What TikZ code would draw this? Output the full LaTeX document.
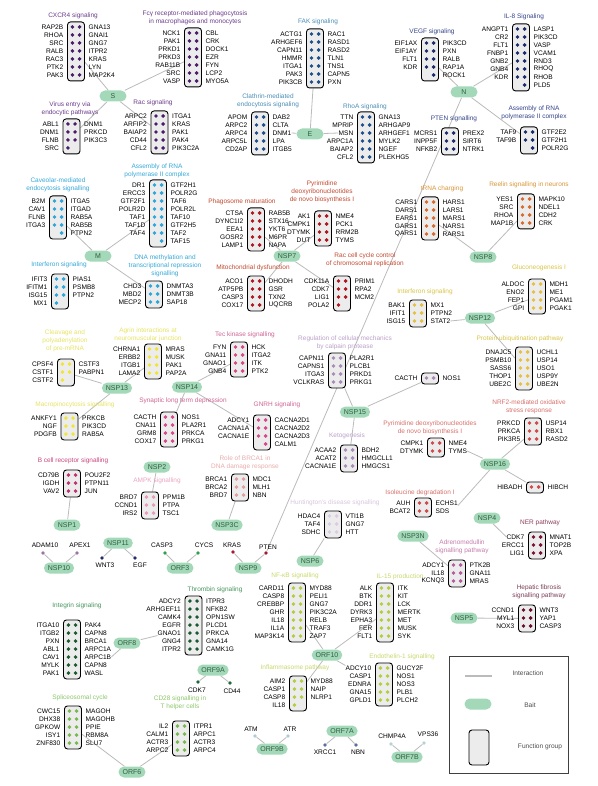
\documentclass[tikz,border=0pt]{standalone}
\usepackage{fontspec}
\setmainfont{Liberation Sans}
\usetikzlibrary{positioning, backgrounds}

\definecolor{edgegray}{HTML}{BBBBBB}
\definecolor{baitgreen}{HTML}{A3D9B8}
\definecolor{baittext}{HTML}{2F5E40}
\definecolor{boxgray}{HTML}{ECECEC}
% dot / title colours per bait
\definecolor{colS}{HTML}{4A1B6B}   \definecolor{ttlS}{HTML}{6B3C8C}
\definecolor{colE}{HTML}{1E4F8C}   \definecolor{ttlE}{HTML}{4A8DB5}
\definecolor{colN}{HTML}{1B296B}   \definecolor{ttlN}{HTML}{34448A}
\definecolor{colM}{HTML}{29A6DA}   \definecolor{ttlM}{HTML}{35A8D8}
\definecolor{col7}{HTML}{B0141E}   \definecolor{ttl7}{HTML}{C2482E}
\definecolor{col8}{HTML}{D8692A}   \definecolor{ttl8}{HTML}{D99436}
\definecolor{col12}{HTML}{E5C03E}  \definecolor{ttl12}{HTML}{D8C445}
\definecolor{col13}{HTML}{F0E632}  \definecolor{ttl13}{HTML}{E6E264}
\definecolor{col14}{HTML}{D9478A}  \definecolor{ttl14}{HTML}{CF6493}
\definecolor{col15}{HTML}{A98AB8}  \definecolor{ttl15}{HTML}{BBA0C8}
\definecolor{col16}{HTML}{D04A4A}  \definecolor{ttl16}{HTML}{D5706A}
\definecolor{col4}{HTML}{7C1034}   \definecolor{ttl4}{HTML}{8C3E5C}
\definecolor{col3N}{HTML}{B55A9A}  \definecolor{ttl3N}{HTML}{C47CAA}
\definecolor{col5}{HTML}{6A0E2A}   \definecolor{ttl5}{HTML}{7C3C55}
\definecolor{col2}{HTML}{E99ABA}   \definecolor{ttl2}{HTML}{EAA3C2}
\definecolor{col1}{HTML}{C2306F}   \definecolor{ttl1}{HTML}{C9457E}
\definecolor{col3C}{HTML}{E59C9C}  \definecolor{ttl3C}{HTML}{E9ABAB}
\definecolor{col6}{HTML}{DCCCE3}   \definecolor{ttl6}{HTML}{D6C6DF}
\definecolor{colO8}{HTML}{195B2F}  \definecolor{ttlO8}{HTML}{43955A}
\definecolor{colO6}{HTML}{74BA4C}  \definecolor{ttlO6}{HTML}{8CC66A}
\definecolor{colO10}{HTML}{B1CF3D} \definecolor{ttlO10}{HTML}{C5D96C}
\definecolor{col10}{HTML}{A070A8}
\definecolor{col11}{HTML}{262A6A}
\definecolor{colO3}{HTML}{2FA04A}
\definecolor{col9}{HTML}{A8182E}
\definecolor{colO9A}{HTML}{1D6A38}
\definecolor{colO9B}{HTML}{A9CCE0}
\definecolor{colO7A}{HTML}{5A6EA0}
\definecolor{colO7B}{HTML}{B8D0D8}

\tikzset{
    fgbox/.style={
        draw=black,
        fill=boxgray,
        line width=0.9pt,
        rounded corners=3pt,
        minimum width=17pt,
        inner sep=0pt
    },
    bait/.style={
        fill=baitgreen,
        rounded corners=5.5pt,
        minimum width=27pt,
        minimum height=11pt,
        inner xsep=4pt,
        inner ysep=0pt,
        text=baittext,
        font=\fontsize{7}{8}\selectfont
    },
    gene/.style={
        inner sep=0pt,
        font=\fontsize{6.6}{7}\selectfont
    },
    genedot/.style={
        circle,
        inner sep=0pt,
        minimum size=3.6pt
    },
    grouptitle/.style={
        align=center,
        inner sep=0pt,
        font=\fontsize{6.5}{8}\selectfont
    },
    link/.style={
        draw=edgegray,
        line width=0.8pt
    }
}

\newcommand\fgpitch{8}
% #1 name, #2 x, #3 y of first row, #4 rows, #5 colour, #6 left genes, #7 right genes
\newcommand\fgroup[7]{%
  \node[fgbox, minimum height={(#4-1)*\fgpitch+11}, anchor=north] (#1) at (#2,#3-5.5) {};
  \foreach \g [count=\i] in {#6} {
    \fill[#5] (#2-3.6,{#3+(\i-1)*\fgpitch}) circle (1.9pt);
    \node[gene, anchor=east] (#1-l\i) at (#2-12.5,{#3+(\i-1)*\fgpitch}) {\g};
  }
  \foreach \g [count=\i] in {#7} {
    \fill[#5] (#2+3.6,{#3+(\i-1)*\fgpitch}) circle (1.9pt);
    \node[gene, anchor=west] (#1-r\i) at (#2+12.5,{#3+(\i-1)*\fgpitch}) {\g};
  }%
}

\begin{document}
\begin{tikzpicture}[x=1pt, y=-1pt]
\useasboundingbox (0,0) rectangle (597,786);

% baits
\node[bait] (S) at (113,96) {S};
\node[bait] (E) at (310,134) {E};
\node[bait] (N) at (464,92) {N};
\node[bait] (M) at (98,256) {M};
\node[bait] (nsp7) at (287,256) {NSP7};
\node[bait] (nsp8) at (483,257) {NSP8};
\node[bait] (nsp12) at (480,318) {NSP12};
\node[bait] (nsp13) at (117,388) {NSP13};
\node[bait] (nsp14) at (187,387) {NSP14};
\node[bait] (nsp15) at (355,412) {NSP15};
\node[bait] (nsp16) at (495,464) {NSP16};
\node[bait] (nsp4) at (487,518) {NSP4};
\node[bait] (nsp3n) at (413,536) {NSP3N};
\node[bait] (nsp5) at (464,618) {NSP5};
\node[bait] (nsp2) at (157,467) {NSP2};
\node[bait] (nsp1) at (67,525) {NSP1};
\node[bait] (nsp3c) at (227,525) {NSP3C};
\node[bait] (nsp6) at (310,561) {NSP6};
\node[bait] (nsp10) at (59,568) {NSP10};
\node[bait] (nsp11) at (118,543) {NSP11};
\node[bait] (orf3) at (180,568) {ORF3};
\node[bait] (nsp9) at (248,568) {NSP9};
\node[bait] (orf8) at (127,643) {ORF8};
\node[bait] (orf9a) at (213,670) {ORF9A};
\node[bait] (orf6) at (132,772) {ORF6};
\node[bait] (orf10) at (327,655) {ORF10};
\node[bait] (orf9b) at (272,749) {ORF9B};
\node[bait] (orf7a) at (342,731) {ORF7A};
\node[bait] (orf7b) at (407,757) {ORF7B};

% S
\fgroup{cxcr4}{76}{27}{7}{colS}{RAP2B,RHOA,SRC,RALB,RAC3,PTK2,PAK3}{GNA13,GNAI1,GNG7,ITPR2,KRAS,LYN,MAP2K4}
\node[grouptitle, text=ttlS] (cxcr4-t) at (73,16) {CXCR4 signaling};
\fgroup{fcg}{193}{33}{7}{colS}{NCK1,PAK1,PRKD1,PRKD3,RAB11B,SRC,VASP}{CBL,CRK,DOCK1,EZR,FYN,LCP2,MYO5A}
\node[grouptitle, text=ttlS] (fcg-t) at (195,17.5) {Fcγ receptor-mediated phagocytosis\\in macrophages and monocytes};
\fgroup{virus}{71.5}{124}{4}{colS}{ABL1,DNM1,FLNB,SRC}{DNM1,PRKCD,PIK3C3}
\node[grouptitle, text=ttlS] (virus-t) at (70,109) {Virus entry via\\endocytic pathways};
\fgroup{rac}{159.5}{116}{5}{colS}{ARPC2,ARFIP2,BAIAP2,CD44,CFL2}{ITGA1,KRAS,PAK1,PAK4,PIK3C2A}
\node[grouptitle, text=ttlS] (rac-t) at (153,103) {Rac signaling};

% E
\fgroup{fak}{315}{34}{7}{colE}{ACTG1,ARHGEF6,CAPN11,HMMR,ITGA1,PAK3,PIK3CB}{RAC1,RASD1,RASD2,TLN1,TNS1,CAPN5,PXN}
\node[grouptitle, text=ttlE] (fak-t) at (318,22) {FAK signaling};
\fgroup{clath}{260}{117}{5}{colE}{APOM,ARPC2,ARPC4,ARPC5L,CD2AP}{DAB2,CLTA,DNM1,LPA,ITGB5}
\node[grouptitle, text=ttlE] (clath-t) at (268,100.5) {Clathrin-mediated\\endocytosis signaling};
\fgroup{rhoa}{366}{117}{6}{colE}{TTN,MPRIP,MSN,ARPC1A,BAIAP2,CFL2}{GNA13,ARHGAP9,ARHGEF1,MYLK2,NGEF,PLEKHG5}
\node[grouptitle, text=ttlE] (rhoa-t) at (365,107) {RhoA signaling};

% N
\fgroup{vegf}{430}{43}{5}{colN}{EIF1AX,EIF1AY,FLT1,KDR}{PIK3CD,PXN,RALB,RAP1A,ROCK1}
\node[grouptitle, text=ttlN] (vegf-t) at (432,32) {VEGF signaling};
\fgroup{il8}{521}{29}{8}{colN}{ANGPT1,CR2,FLT1,FNBP1,GNB2,GNB4,KDR}{LASP1,PIK3CD,VASP,VCAM1,RND3,RHOQ,RHOB,PLD5}
\node[grouptitle, text=ttlN] (il8-t) at (524,17) {IL-8 Signaling};
\fgroup{pten}{450}{133}{3}{colN}{MCRS1,INPP5F,NFKB2}{PREX2,SIRT6,NTRK1}
\node[grouptitle, text=ttlN] (pten-t) at (454,119) {PTEN signalling};
\fgroup{rnan}{529}{132}{3}{colN}{TAF9,TAF9B}{GTF2E2,GTF2H1,POLR2G}
\node[grouptitle, text=ttlN] (rnan-t) at (534,113) {Assembly of RNA\\polymerase II complex};

% M
\fgroup{cav}{58}{201}{5}{colM}{B2M,CAV1,FLNB,ITGA3}{ITGA5,ITGAD,RAB5A,RAB5B,PTPN2}
\node[grouptitle, text=ttlM] (cav-t) at (58,185) {Caveolar-mediated\\endocytosis signalling};
\fgroup{rnam}{158}{185}{8}{colM}{DR1,ERCC3,GTF2F1,POLR2D,TAF1,TAF1D,TAF4}{GTF2H1,POLR2G,TAF6,POLR2L,TAF10,GTF2H5,TAF2,TAF15}
\node[grouptitle, text=ttlM] (rnam-t) at (157,170.5) {Assembly of RNA\\polymerase II complex};
\fgroup{ifnm}{60}{279}{4}{colM}{IFIT3,IFITM1,ISG15,MX1}{PIAS1,PSMB8,PTPN2}
\node[grouptitle, text=ttlM] (ifnm-t) at (59,265) {Interferon signaling};
\fgroup{dnam}{154}{286}{3}{colM}{CHD3,MBD2,MECP2}{DNMTA3,DNMT3B,SAP18}
\node[grouptitle, text=ttlM] (dnam-t) at (165,266) {DNA methylation and\\transcriptional repression\\signalling};

% NSP7
\fgroup{phago}{256}{213}{5}{col7}{CTSA,DYNC1I2,EEA1,GOSR2,LAMP1}{RAB5B,STX16,YKT6,M6PR,NAPA}
\node[grouptitle, text=ttl7] (phago-t) at (242,202) {Phagosome maturation};
\fgroup{pyr7}{323}{216}{4}{col7}{AK1,CMPK1,DTYMK,DUT}{NME4,PCK1,RRM2B,TYMS}
\node[grouptitle, text=ttl7] (pyr7-t) at (322,192) {Pyrimidine\\deoxyribonucleotides\\de novo biosynthesis I};
\fgroup{mito}{256}{281}{4}{col7}{ACO1,ATP5PB,CASP3,COX17}{DHODH,GSR,TXN2,UQCRB}
\node[grouptitle, text=ttl7] (mito-t) at (253,268) {Mitochondrial dysfunction};
\fgroup{raccc}{342}{281}{4}{col7}{CDK11A,CDK7,LIG1,POLA2}{PRIM1,RPA2,MCM2}
\node[grouptitle, text=ttl7] (raccc-t) at (365,260) {Rac cell cycle control\\of chromosomal replication};

% NSP8
\fgroup{trna}{430}{202}{5}{col8}{CARS1,DARS1,EARS1,GARS1,QARS1}{HARS1,LARS1,MARS1,NARS1,RARS1}
\node[grouptitle, text=ttl8] (trna-t) at (442,189) {tRNA charging};
\fgroup{reelin}{526}{199}{4}{col8}{YES1,SRC,RHOA,MAP1B}{MAPK10,NDEL1,CDH2,CRK}
\node[grouptitle, text=ttl8] (reelin-t) at (529,185) {Reelin signalling in neurons};

% NSP12
\fgroup{gluco}{537}{284}{4}{col12}{ALDOC,ENO2,FEP1,GPI}{MDH1,ME1,PGAM1,PGAK1}
\node[grouptitle, text=ttl12] (gluco-t) at (539,268) {Gluconeogenesis I};
\fgroup{ifn12}{418}{305}{3}{col12}{BAK1,IFIT1,ISG15}{MX1,PTPN2,STAT2}
\node[grouptitle, text=ttl12] (ifn12-t) at (425,292) {Interferon signaling};
\fgroup{ubiq}{524}{352}{5}{col12}{DNAJC5,PSMB10,SASS6,THOP1,UBE2C}{UCHL1,USP14,USO1,USP9Y,UBE2N}
\node[grouptitle, text=ttl12] (ubiq-t) at (520,339) {Protein ubiquitination pathway};

% NSP13
\fgroup{cleav}{66}{364}{3}{col13}{CPSF4,CSTF1,CSTF2}{CSTF3,PABPN1}
\node[grouptitle, text=ttl13] (cleav-t) at (65,341) {Cleavage and\\polyadenylation\\of pre-mRNA};
\fgroup{agrin}{153}{349}{4}{col13}{CHRNA1,ERBB2,ITGB1,LAMA2}{MRAS,MUSK,PAK1,PAP2A}
\node[grouptitle, text=ttl13] (agrin-t) at (148,334.5) {Agrin interactions at\\neuromuscular junction};
\fgroup{macro}{69.5}{418}{3}{col13}{ANKFY1,NGF,PDGFB}{PRKCB,PIK3CD,RAB5A}
\node[grouptitle, text=ttl13] (macro-t) at (75,405) {Macropinocytosis signalling};

% NSP14
\fgroup{tec}{239}{347}{4}{col14}{FYN,GNA11,GNAO1,GNB4}{HCK,ITGA2,ITK,PTK2}
\node[grouptitle, text=ttl14] (tec-t) at (245,335) {Tec kinase signalling};
\fgroup{synap}{169}{417}{4}{col14}{CACTH,CNA11,GRM8,COX17}{NOS1,PLA2R1,PRKCA,PRKG1}
\node[grouptitle, text=ttl14] (synap-t) at (183,401) {Synaptic long term depression};
\fgroup{gnrh}{262}{420}{4}{col14}{ADCY1,CACNA1A,CACNA1E}{CACNA2D1,CACNA2D2,CACNA2D3,CALM1}
\node[grouptitle, text=ttl14] (gnrh-t) at (277,405) {GNRH signaling};

% NSP15
\fgroup{calp}{337}{358}{4}{col15}{CAPN11,CAPNS1,ITGA3,VCLKRAS}{PLA2R1,PLCB1,PRKD1,PRKG1}
\node[grouptitle, text=ttl15] (calp-t) at (345,343) {Regulation of cellular mechanics\\by calpain protease};
\fgroup{cacth}{430}{378}{1}{col15}{CACTH}{NOS1}
\fgroup{keto}{349}{450}{3}{col15}{ACAA2,ACAT2,CACNA1E}{BDH2,HMGCLL1,HMGCS1}
\node[grouptitle, text=ttl15] (keto-t) at (347,436) {Ketogenesis};

% NSP16
\fgroup{nrf2}{533}{423}{3}{col16}{PRKCD,PRKCA,PIK3R5}{USP14,RBX1,RASD2}
\node[grouptitle, text=ttl16] (nrf2-t) at (529,407) {NRF2-mediated oxidative\\stress response};
\fgroup{pyr16}{436}{443}{2}{col16}{CMPK1,DTYMK}{NME4,TYMS}
\node[grouptitle, text=ttl16] (pyr16-t) at (430,428) {Pyrimidine deoxyribonucleotides\\de novo biosynthesis I};
\fgroup{hibadh}{535}{487}{1}{col16}{HIBADH}{HIBCH}
\fgroup{isoleu}{423}{503}{2}{col16}{AUH,BCAT2}{ECHS1,SDS}
\node[grouptitle, text=ttl16] (isoleu-t) at (420,493) {Isoleucine degradation I};

% NSP4, NSP3N, NSP5
\fgroup{ner}{537}{537}{3}{col4}{CDK7,ERCC1,LIG1}{MNAT1,TOP2B,XPA}
\node[grouptitle, text=ttl4] (ner-t) at (540,523) {NER pathway};
\fgroup{adm}{457}{565}{3}{col3N}{ADCY1,IL18,KCNQ3}{PTK2B,GNA11,MRAS}
\node[grouptitle, text=ttl3N] (adm-t) at (462,547) {Adrenomedullin\\signalling pathway};
\fgroup{hep}{527}{610}{3}{col5}{CCND1,MYL1,NOX3}{WNT3,YAP1,CASP3}
\node[grouptitle, text=ttl5] (hep-t) at (539,592) {Hepatic fibrosis\\signalling pathway};

% NSP2, NSP1, NSP3C, NSP6
\fgroup{ampk}{150}{497}{3}{col2}{BRD7,CCND1,IRS2}{PPM1B,PTPA,TSC1}
\node[grouptitle, text=ttl2] (ampk-t) at (157,481) {AMPK signalling};
\fgroup{bcell}{72}{475}{3}{col1}{CD79B,IGDH,VAV2}{POU2F2,PTPN11,JUN}
\node[grouptitle, text=ttl1] (bcell-t) at (73,461) {B cell receptor signalling};
\fgroup{brca}{240}{479}{3}{col3C}{BRCA1,BRCA2,BRD7}{MDC1,MLH1,NBN}
\node[grouptitle, text=ttl3C] (brca-t) at (245,463) {Role of BRCA1 in\\DNA damage response};
\fgroup{hunt}{333}{516}{3}{col6}{HDAC4,TAF4,SDHC}{VTI1B,GNG7,HTT}
\node[grouptitle, text=ttl6] (hunt-t) at (335,503) {Huntington's disease signalling};

% ORF8, ORF6, ORF10
\fgroup{integ}{72}{625}{7}{colO8}{ITGA10,ITGB2,PXN,ABL1,CAV1,MYLK,PAK1}{PAK4,CAPN8,BRCA1,ARPC1A,ARPC1B,CAPN8,WASL}
\node[grouptitle, text=ttlO8] (integ-t) at (77,606) {Integrin signaling};
\fgroup{thromb}{193.5}{601}{7}{colO8}{ADCY2,ARHGEF11,CAMK4,EGFR,GNAO1,GNG4,ITPR2}{ITPR3,NFKB2,OPN1SW,PLCD1,PRKCA,GNA14,CAMK1G}
\node[grouptitle, text=ttlO8] (thromb-t) at (215,590) {Thrombin signaling};
\fgroup{splic}{73}{711}{5}{colO6}{CWC15,DHX38,GPKOW,ISY1,ZNF830}{MAGOH,MAGOHB,PPIE,RBM8A,SLU7}
\node[grouptitle, text=ttlO6] (splic-t) at (80,698) {Spliceosomal cycle};
\fgroup{cd28}{181}{726}{4}{colO6}{IL2,CALM1,ACTR3,ARPC2}{ITPR1,ARPC1,ACTR3,ARPC4}
\node[grouptitle, text=ttlO6] (cd28-t) at (180,703) {CD28 signalling in\\T helper cells};
\fgroup{nfkb}{297}{588}{7}{colO10}{CARD11,CASP8,CREBBP,GHR,IL18,IL1A,MAP3K14}{MYD88,PELI1,GNG7,PIK3C2A,RELB,TRAF3,ZAP7}
\node[grouptitle, text=ttlO10] (nfkb-t) at (295,576) {NF-κB signalling};
\fgroup{il15}{385}{588}{7}{colO10}{ALK,BTK,DDR1,DYRK3,EPHA3,FER,FLT1}{ITK,KIT,LCK,MERTK,MET,MUSK,SYK}
\node[grouptitle, text=ttlO10] (il15-t) at (400,577) {IL-15 production};
\fgroup{infl}{298}{681}{4}{colO10}{AIM2,CASP1,CASP8,IL18}{MYD88,NAIP,NLRP1}
\node[grouptitle, text=ttlO10] (infl-t) at (295,668) {Inflammasome pathway};
\fgroup{endo}{384}{668}{5}{colO10}{ADCY10,CASP1,EDNRA,GNA15,GPLD1}{GUCY2F,NOS1,NOS3,PLB1,PLCH2}
\node[grouptitle, text=ttlO10] (endo-t) at (402,657) {Endothelin-1 signalling};

% single interactors
\node[genedot, fill=col10] (adam10) at (43,553) {};
\node[gene] (adam10-t) at (45,545) {ADAM10};
\node[genedot, fill=col10] (apex1) at (77,553) {};
\node[gene] (apex1-t) at (80,545) {APEX1};
\node[genedot, fill=col11] (wnt3) at (102,558) {};
\node[gene] (wnt3-t) at (105,565) {WNT3};
\node[genedot, fill=col11] (egf) at (135,558) {};
\node[gene] (egf-t) at (140,565) {EGF};
\node[genedot, fill=colO3] (casp3) at (165,553) {};
\node[gene] (casp3-t) at (162,545) {CASP3};
\node[genedot, fill=colO3] (cycs) at (198,553) {};
\node[gene] (cycs-t) at (204,545) {CYCS};
\node[genedot, fill=col9] (kras) at (233,552) {};
\node[gene] (kras-t) at (232,545) {KRAS};
\node[genedot, fill=col9] (pten) at (266,553) {};
\node[gene] (pten-t2) at (268,547) {PTEN};
\node[genedot, fill=colO9A] (cdk7) at (198,682) {};
\node[gene] (cdk7-t) at (197,690) {CDK7};
\node[genedot, fill=colO9A] (cd44) at (230,683) {};
\node[gene] (cd44-t) at (232,691) {CD44};
\node[genedot, fill=colO9B] (atm) at (255,736) {};
\node[gene] (atm-t) at (251,729) {ATM};
\node[genedot, fill=colO9B] (atr) at (288,736) {};
\node[gene] (atr-t) at (290,729) {ATR};
\node[genedot, fill=colO7A] (xrcc1) at (325,745) {};
\node[gene] (xrcc1-t) at (325,752) {XRCC1};
\node[genedot, fill=colO7A] (nbn) at (356,745) {};
\node[gene] (nbn-t) at (358,752) {NBN};
\node[genedot, fill=colO7B] (chmp4a) at (391,744) {};
\node[gene] (chmp4a-t) at (392,736) {CHMP4A};
\node[genedot, fill=colO7B] (vps36) at (424,743) {};
\node[gene] (vps36-t) at (428,734) {VPS36};

% legend
\node[draw=black!75, line width=0.8pt, minimum width=119pt, minimum height=117pt, anchor=north west, inner sep=0pt] (legend) at (449,656) {};
\coordinate (leg-a) at (465,676);
\coordinate (leg-b) at (492,676);
\node[gene, text=black!70] (leg-int) at (528,673) {Interaction};
\node[bait, minimum width=27pt] (leg-bait) at (478,704) {};
\node[gene, text=black!70] (leg-baitt) at (530,705) {Bait};
\node[fgbox, minimum width=20pt, minimum height=35pt] (leg-box) at (479,747.5) {};
\node[gene, text=black!70] (leg-boxt) at (540,747) {Function group};

% connectors
\begin{scope}[on background layer]
\draw[edgegray, line width=1.5pt] (leg-a) -- (leg-b);
\draw[link] (S) -- (cxcr4);
\draw[link] (S) -- (fcg);
\draw[link] (S) -- (virus);
\draw[link] (S) -- (rac);
\draw[link] (E) -- (fak);
\draw[link] (E) -- (clath-r3.east);
\draw[link] (E) -- (rhoa-l3.west);
\draw[link] (N) -- (vegf);
\draw[link] (N) -- (il8);
\draw[link] (N) -- (pten);
\draw[link] (N) -- (rnan);
\draw[link] (M) -- (cav);
\draw[link] (M) -- (rnam);
\draw[link] (M) -- (dnam);
\draw[link] (nsp7) -- (phago);
\draw[link] (nsp7) -- (pyr7);
\draw[link] (nsp7) -- (mito);
\draw[link] (nsp7) -- (raccc);
\draw[link] (nsp8) -- (trna);
\draw[link] (nsp8) -- (reelin);
\draw[link] (nsp12) -- (gluco);
\draw[link] (nsp12) -- (ifn12-r3.east);
\draw[link] (nsp12) -- (ubiq);
\draw[link] (nsp13) -- (cleav);
\draw[link] (nsp13) -- (agrin);
\draw[link] (nsp13) -- (macro);
\draw[link] (nsp14) -- (tec);
\draw[link] (nsp14) -- (synap);
\draw[link] (nsp14) -- (gnrh);
\draw[link] (nsp15) -- (calp);
\draw[link] (nsp15) -- (cacth);
\draw[link] (nsp15) -- (keto);
\draw[link] (nsp16) -- (nrf2);
\draw[link] (nsp16) -- (pyr16-r2.east);
\draw[link] (nsp16) -- (hibadh);
\draw[link] (nsp16) -- (isoleu-r1.south east);
\draw[link] (nsp4) -- (ner-l1.west);
\draw[link] (nsp3n) -- (adm);
\draw[link] (nsp5) -- (hep);
\draw[link] (nsp2) -- (ampk);
\draw[link] (nsp1) -- (bcell);
\draw[link] (nsp3c) -- (brca);
\draw[link] (nsp6) -- (hunt);
\draw[link] (orf8) -- (integ-r5.east);
\draw[link] (orf8) -- (thromb-l5.south west);
\draw[link] (orf6) -- (splic);
\draw[link] (orf6) -- (cd28);
\draw[link] (orf10) -- (nfkb);
\draw[link] (orf10) -- (il15);
\draw[link] (orf10) -- (infl);
\draw[link] (orf10) -- (endo-l1.north west);
\draw[link] (nsp10) -- (adam10);
\draw[link] (nsp10) -- (apex1);
\draw[link] (nsp11) -- (wnt3);
\draw[link] (nsp11) -- (egf);
\draw[link] (orf3) -- (casp3);
\draw[link] (orf3) -- (cycs);
\draw[link] (nsp9) -- (kras);
\draw[link] (nsp9) -- (pten);
\draw[link] (orf9a) -- (cdk7);
\draw[link] (orf9a) -- (cd44);
\draw[link] (orf9b) -- (atm);
\draw[link] (orf9b) -- (atr);
\draw[link] (orf7a) -- (xrcc1);
\draw[link] (orf7a) -- (nbn);
\draw[link] (orf7b) -- (chmp4a);
\draw[link] (orf7b) -- (vps36);
\end{scope}
\end{tikzpicture}
\end{document}
